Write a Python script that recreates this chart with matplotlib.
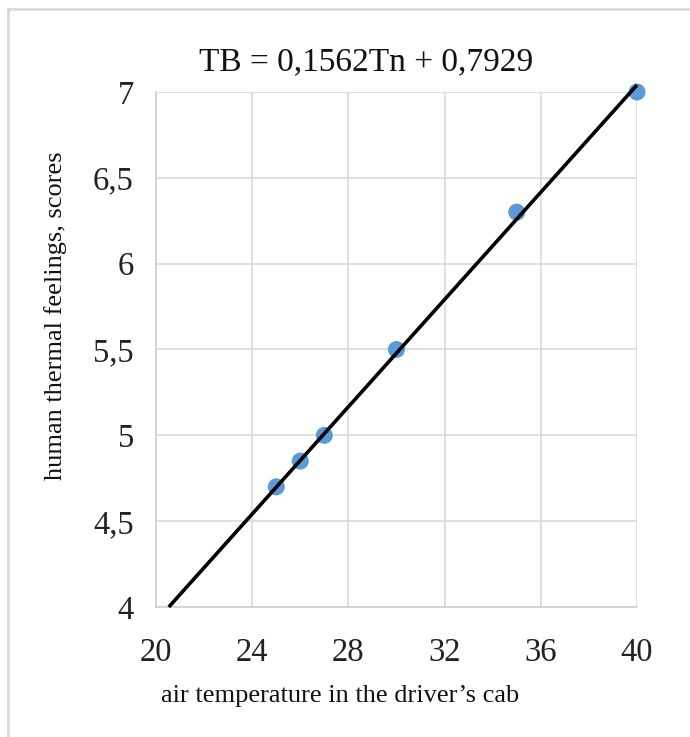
import matplotlib
matplotlib.use("Agg")
import matplotlib.pyplot as plt
from matplotlib.lines import Line2D
from matplotlib.ticker import FuncFormatter

# Measured data: air temperature in the cab vs. thermal sensation score
temperature = [25, 26, 27, 30, 35, 40]
feeling = [4.7, 4.85, 5.0, 5.5, 6.3, 7.0]

# Linear trend coefficients
slope = 0.1562
intercept = 0.7929

x_ticks = [20, 24, 28, 32, 36, 40]
y_ticks = [4, 4.5, 5, 5.5, 6, 6.5, 7]

plt.rcParams['font.family'] = ['Liberation Serif', 'DejaVu Serif']

W, H = 690, 737
fig = plt.figure(figsize=(W / 100, H / 100), dpi=100)
fig.patch.set_facecolor('white')

# light frame around the chart area (left and top edges)
frame_col = '#d9d9d9'
fig.add_artist(Line2D([8 / W, 8 / W], [0, 1 - 9 / H], transform=fig.transFigure,
                      color=frame_col, lw=2))
fig.add_artist(Line2D([8 / W, 1], [1 - 9 / H, 1 - 9 / H], transform=fig.transFigure,
                      color=frame_col, lw=2))

left, right, top, bottom = 156, 637, 92, 607
ax = fig.add_axes([left / W, 1 - bottom / H, (right - left) / W, (bottom - top) / H])

ax.set_xlim(20, 40)
ax.set_ylim(4, 7)
ax.set_xticks(x_ticks)
ax.set_yticks(y_ticks)

comma = FuncFormatter(lambda v, p: ('%g' % v).replace('.', ','))
ax.xaxis.set_major_formatter(comma)
ax.yaxis.set_major_formatter(comma)

ax.grid(True, color='#d9d9d9', lw=1.2)
ax.set_axisbelow(True)
for s in ['top', 'right']:
    ax.spines[s].set_visible(False)
for s in ['left', 'bottom']:
    ax.spines[s].set_color('#d0d0d0')
    ax.spines[s].set_linewidth(1.2)

ax.tick_params(axis='both', length=0, labelsize=23.5, colors='#222222')
ax.tick_params(axis='x', pad=22)
ax.tick_params(axis='y', pad=16)

# trend line from the lower axis limit up to the last measurement
x0 = (4 - intercept) / slope
x1 = max(temperature)
ax.plot([x0, x1], [slope * x0 + intercept, slope * x1 + intercept],
        color='black', lw=2.6, zorder=3, clip_on=False, solid_capstyle='butt')

ax.scatter(temperature, feeling, s=150, color='#5b9bd5', zorder=2,
           edgecolors='none', clip_on=False)

fig.text(366 / W, 1 - 62 / H, 'TB = 0,1562Tn + 0,7929', ha='center', va='center',
         fontsize=24, color='#111111')

fig.text(340 / W, 1 - 696 / H, 'air temperature in the driver\u2019s cab',
         ha='center', va='center', fontsize=19, color='#111111')
fig.text(56 / W, 1 - 316 / H, 'human thermal feelings, scores',
         ha='center', va='center', rotation=90, fontsize=19, color='#111111')

fig.savefig('out.png', dpi=100, facecolor='white')
